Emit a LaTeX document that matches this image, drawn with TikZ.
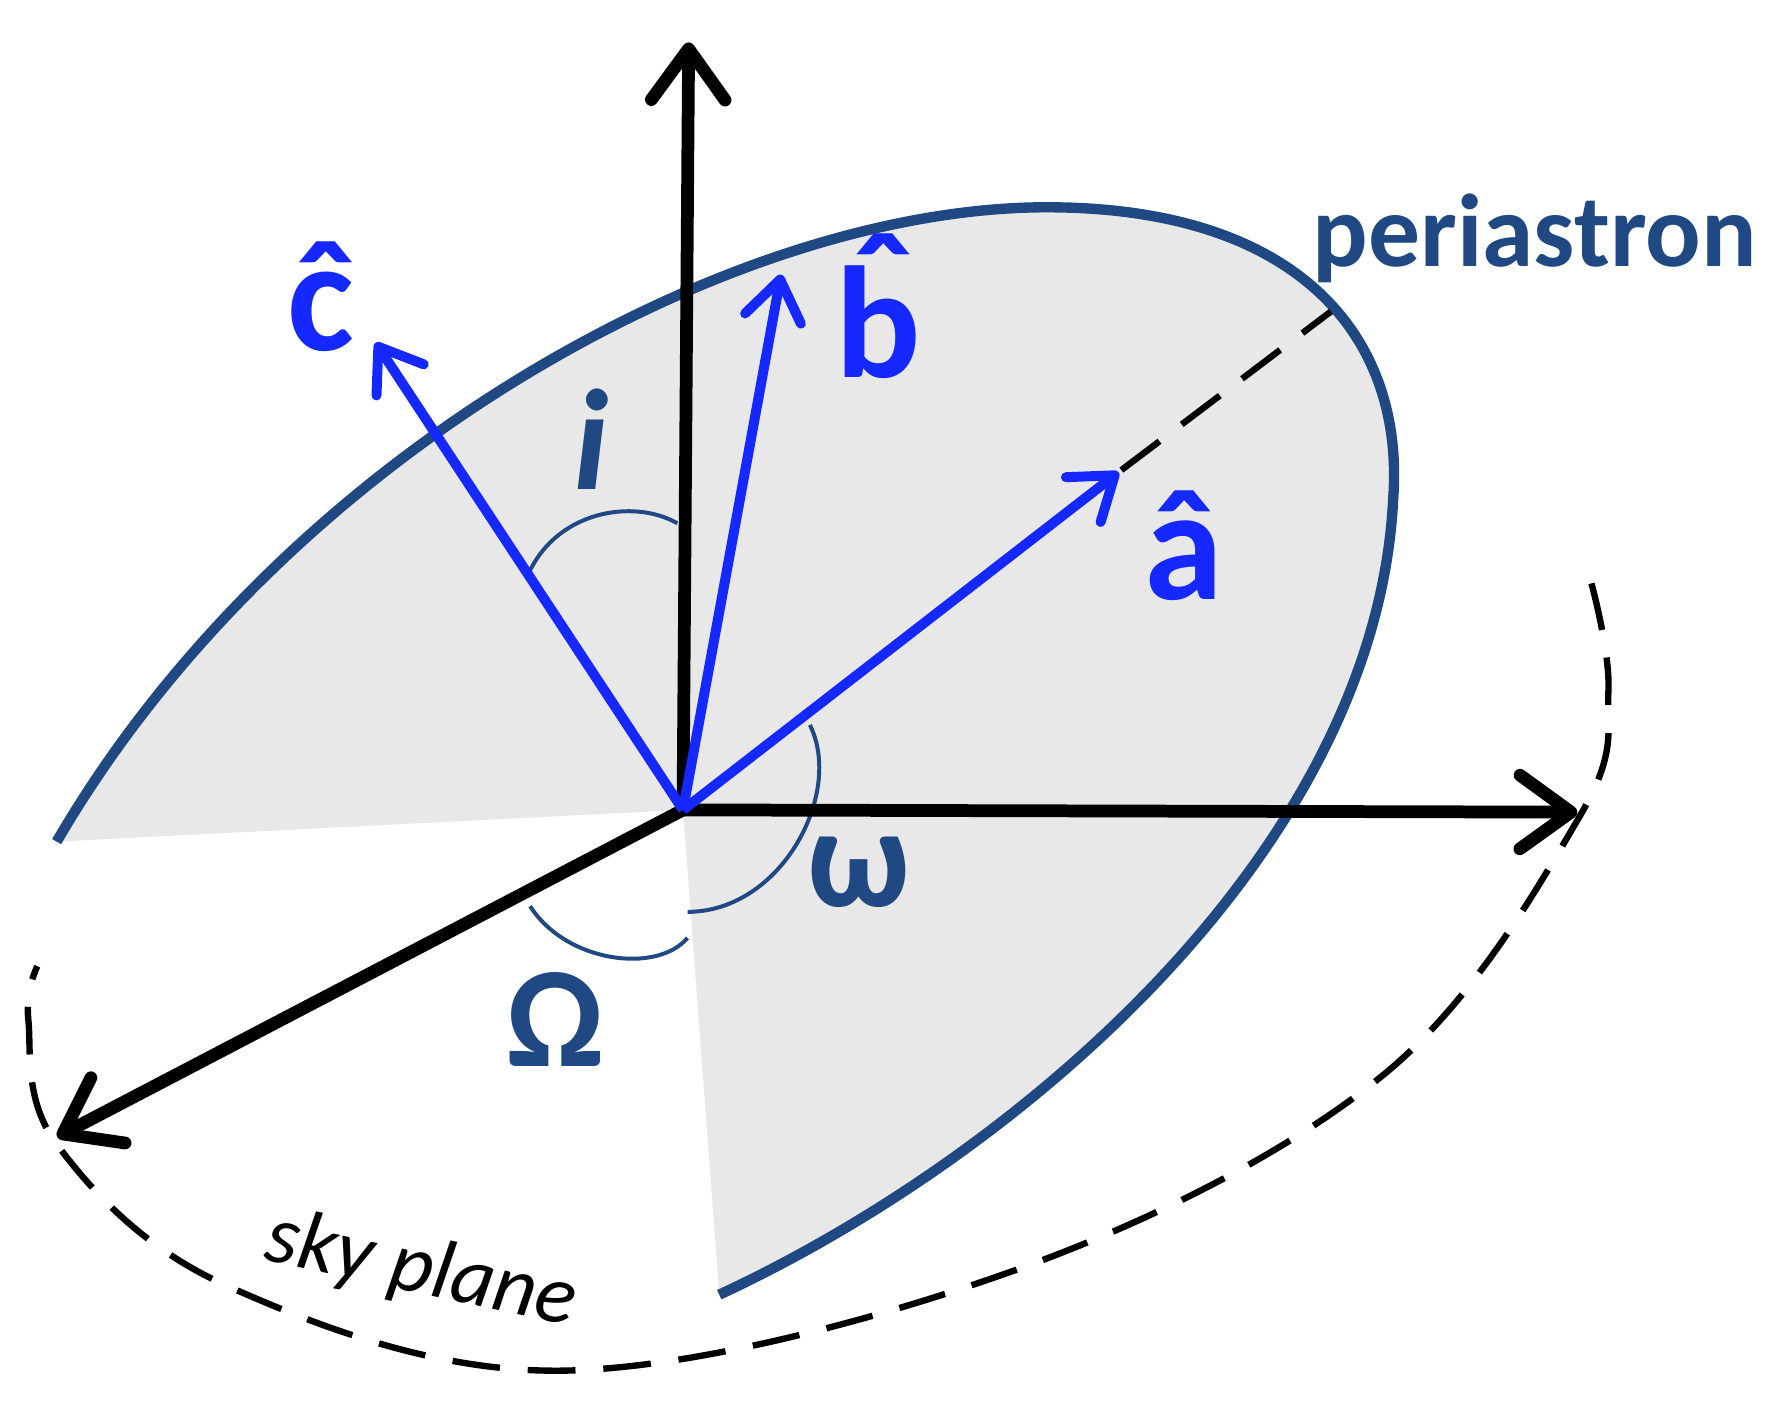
\documentclass[tikz,border=0pt]{standalone}
\usepackage{fontspec}
\setmainfont{Carlito}
\usetikzlibrary{arrows.meta}
\definecolor{vb}{RGB}{20,40,255}
\definecolor{db}{RGB}{32,72,130}
\definecolor{fillg}{RGB}{232,232,232}
\begin{document}
\begin{tikzpicture}[x=0.01cm,y=-0.01cm,
  ax/.style={line width=3.2pt,-{Straight Barb[length=4.5mm,width=6.5mm,line cap=round,line join=round]}},
  bl/.style={vb,line width=2.5pt,-{Straight Barb[length=3.5mm,width=5mm,line cap=round,line join=round]}},
  ang/.style={db,line width=1pt},
  lab/.style={font=\fontsize{40}{42}\selectfont\bfseries}]
\useasboundingbox (0,0) rectangle (1560,1253);
\coordinate (O) at (603,715);
\coordinate (s) at (50,743);
\coordinate (e) at (635,1143);
\fill[fillg] (s) .. controls (250,400) and (650,180) .. (930,183) .. controls (1150,185) and (1240,300) .. (1230,440) .. controls (1215,750) and (900,1020) .. (e) -- (O) -- cycle;
\draw[db,line width=2.6pt] (s) .. controls (250,400) and (650,180) .. (930,183) .. controls (1150,185) and (1240,300) .. (1230,440) .. controls (1215,750) and (900,1020) .. (e);
\coordinate (P) at (1175,275);
\coordinate (at) at (990,415);
\draw[line width=1.6pt,dash pattern=on 12pt off 7pt] (at) -- (P);
\draw[line width=1.6pt,dash pattern=on 12pt off 7pt] plot[smooth,tension=0.6] coordinates {(1405,515) (1420,610) (1395,720) (1220,950) (900,1120) (500,1210) (200,1135) (50,1010) (25,900) (33,853)};
% angle arcs
\draw[ang] (465,510) .. controls (490,450) and (560,440) .. (598,462);
\draw[ang] (468,800) .. controls (500,850) and (580,860) .. (607,828);
\draw[ang] (715,640) .. controls (745,700) and (690,805) .. (607,805);
% axes
\node[inner sep=0] (up) at (608,35) {};
\node[inner sep=0] (rt) at (1395,717) {};
\node[inner sep=0] (dl) at (48,1005) {};
\draw[ax] (O) -- (up);
\draw[ax] (O) -- (rt);
\draw[ax] (O) -- (dl);
\node[inner sep=0] (c) at (330,300) {};
\node[inner sep=0] (b) at (690,240) {};
\node[inner sep=0] (a) at (at) {};
\draw[bl] (O) -- (c);
\draw[bl] (O) -- (b);
\draw[bl] (O) -- (a);
\node[lab,vb] at (283,262) {ĉ};
\node[lab,vb] at (775,270) {\makebox[0pt][l]{\hspace{0.1em}\raisebox{0.22em}{ˆ}}b};
\node[lab,vb] at (1045,482) {â};
\node[db,font=\fontsize{36}{38}\selectfont\bfseries\itshape] at (522,388) {i};
\node[db,font=\fontsize{36}{38}\selectfont\bfseries] at (758,770) {ω};
\node[db,font=\fontsize{36}{38}\selectfont\bfseries] at (490,900) {Ω};
\node[db,font=\fontsize{26}{28}\selectfont\bfseries] at (1355,210) {periastron};
\node[rotate=-12,font=\fontsize{21}{23}\selectfont\itshape] at (372,1122) {sky plane};
\end{tikzpicture}
\end{document}
